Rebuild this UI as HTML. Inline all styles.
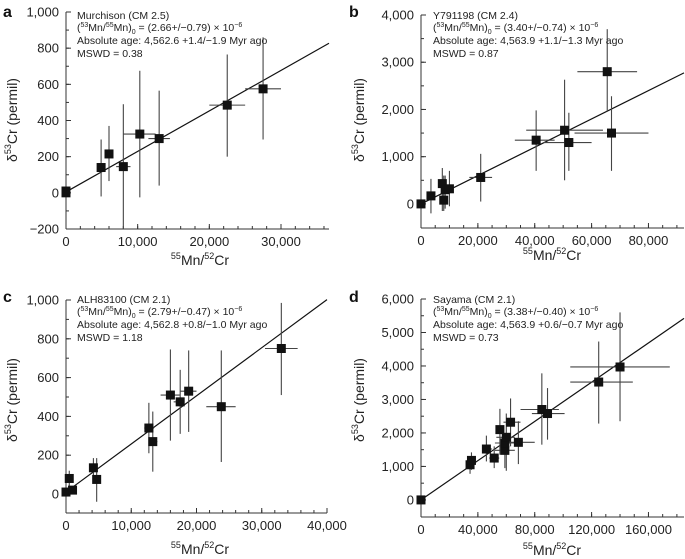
<!DOCTYPE html>
<html><head><meta charset="utf-8"><style>
body{margin:0;background:#fff}
svg{display:block;font-family:"Liberation Sans",Arial,sans-serif}
</style></head><body>
<svg id="chart" width="685" height="559" viewBox="0 0 685 559"></svg>
<script>
// Panel a: Murchison
const aX=[0,0,4900,6000,8000,10300,13000,22500,27500];
const aY=[10,0,140,215,145,325,300,485,575];
const aXlo=[0,0,4900,6000,7000,8000,11500,20000,25000];
const aXhi=[0,0,4900,6000,9000,12500,14500,25000,30000];
const aYlo=[10,0,-20,65,-200,-25,40,200,295];
const aYhi=[10,0,295,370,490,675,565,765,860];
const aXticks=[0,10000,20000,30000];
const aYticks=[-200,0,200,400,600,800,1000];
const aFit=[5,0.0224];
// Panel b: Y791198
const bX=[0,3500,7500,8000,8500,10000,21000,40500,50500,52000,65500,67000];
const bY=[0,170,430,80,300,320,560,1350,1560,1300,2800,1500];
const bXlo=[0,3500,7500,8000,8500,10000,17000,33000,37000,43000,55000,54000];
const bXhi=[0,3500,7500,8000,8500,10000,25000,47000,64000,60000,76000,80000];
const bYlo=[0,-200,-150,-150,-100,-50,50,700,500,700,1950,700];
const bYhi=[0,530,760,600,600,700,1060,1980,2630,1930,3700,2280];
const bXticks=[0,20000,40000,60000,80000];
const bYticks=[0,1000,2000,3000,4000];
const bFit=[0,0.0300];
// Panel c: ALH83100
const cX=[0,500,1000,4200,4700,12700,13300,16000,17500,18800,23800,33000];
const cY=[10,80,20,135,75,340,270,510,475,530,450,750];
const cXlo=[0,500,1000,4200,4700,12000,12800,14500,16500,17500,21500,30500];
const cXhi=[0,500,1000,4200,4700,13500,14000,17500,18000,20000,26000,35500];
const cYlo=[10,40,0,80,-40,210,115,275,310,320,165,510];
const cYhi=[10,120,40,185,185,470,425,745,640,740,740,985];
const cXticks=[0,10000,20000,30000,40000];
const cYticks=[0,200,400,600,800,1000];
const cFit=[10,0.0248];
// Panel d: Sayama
const dX=[0,34500,35500,46000,51500,55500,59000,59000,60000,63000,68500,85000,89000,125000,140000];
const dY=[0,1050,1180,1520,1250,2100,1480,1700,1870,2320,1720,2700,2580,3520,3970];
const dXlo=[0,34500,35500,43000,48000,55500,52000,52000,53000,58000,60000,70000,78000,105000,105000];
const dXhi=[0,34500,35500,50000,55000,55500,66000,68000,66000,70000,80000,97000,101000,149000,175000];
const dYlo=[0,780,900,1150,950,1350,950,1500,870,1600,1070,1650,1800,2280,2350];
const dYhi=[0,1300,1420,1920,1600,2720,2000,1900,2580,3030,2350,3780,3340,4730,5600];
const dXticks=[0,40000,80000,120000,160000];
const dYticks=[0,1000,2000,3000,4000,5000,6000];
const dFit=[0,0.0293];

const NS="http://www.w3.org/2000/svg";
const svg=document.getElementById('chart');
function mk(tag,attrs,parent,txt){const e=document.createElementNS(NS,tag);for(const k in attrs)e.setAttribute(k,attrs[k]);if(txt!==undefined)e.textContent=txt;(parent||svg).appendChild(e);return e;}
function fmt(v){return (v<0?'\u2212':'')+Math.abs(v).toLocaleString('en-US');}

function panel(cfg){
  const g=mk('g',{});
  
  
  const sx=v=>cfg.px0+(v-cfg.xmin)/(cfg.xmax-cfg.xmin)*(cfg.px1-cfg.px0);
  const sy=v=>cfg.py0-(v-cfg.ymin)/(cfg.ymax-cfg.ymin)*(cfg.py0-cfg.py1);
  const ax=mk('line',{x1:cfg.px0,y1:cfg.py0,x2:cfg.px1,y2:cfg.py0,stroke:'#333','stroke-width':1},g);
  
  
  const ay=mk('line',{x1:cfg.px0,y1:cfg.py0,x2:cfg.px0,y2:sy(cfg.yticks[cfg.yticks.length-1]),stroke:'#333','stroke-width':1},g);
  
  
  for(let v=cfg.xmin;v<=cfg.xmax+1e-6;v+=cfg.xminor){mk('line',{x1:sx(v),x2:sx(v),y1:cfg.py0,y2:cfg.py0-3,stroke:'#333'},g);}
  for(let v=cfg.yticks[0];v<=cfg.yticks[cfg.yticks.length-1]+1e-6;v+=cfg.yminor){mk('line',{x1:cfg.px0,x2:cfg.px0+3,y1:sy(v),y2:sy(v),stroke:'#333'},g);}
  cfg.xticks.forEach(v=>{
    mk('line',{x1:sx(v),x2:sx(v),y1:cfg.py0,y2:cfg.py0-5,stroke:'#333'},g);
    const t=mk('text',{x:sx(v),y:cfg.py0+17,'font-size':13,'text-anchor':'middle',fill:'#222'},g,fmt(v));
    
    
  });
  cfg.yticks.forEach(v=>{
    mk('line',{x1:cfg.px0,x2:cfg.px0+5,y1:sy(v),y2:sy(v),stroke:'#333'},g);
    const t=mk('text',{x:cfg.px0-7,y:sy(v)+4.5,'font-size':13,'text-anchor':'end',fill:'#222'},g,fmt(v));
    
    
  });
  const fx1=cfg.fitStart, fx2=cfg.xmax;
  const fl=mk('line',{x1:sx(fx1),y1:sy(cfg.fit[0]+cfg.fit[1]*fx1),x2:sx(fx2),y2:sy(cfg.fit[0]+cfg.fit[1]*fx2),stroke:'#111','stroke-width':1.2},g);
  
  
  cfg.X.forEach((x,i)=>{
    const y=cfg.Y[i];
    if(cfg.Xhi[i]>cfg.Xlo[i]){const e=mk('line',{x1:sx(cfg.Xlo[i]),x2:sx(cfg.Xhi[i]),y1:sy(y),y2:sy(y),stroke:'#444','stroke-width':1.1},g);
      
      }
    if(cfg.Yhi[i]>cfg.Ylo[i]){const e=mk('line',{x1:sx(x),x2:sx(x),y1:sy(cfg.Ylo[i]),y2:sy(cfg.Yhi[i]),stroke:'#444','stroke-width':1.1},g);
      
      }
  });
  cfg.X.forEach((x,i)=>{
    const r=mk('rect',{x:sx(x)-4.5,y:sy(cfg.Y[i])-4.5,width:9,height:9,fill:'#111'},g);
    
    
  });
  const L=mk('text',{x:cfg.lx,y:cfg.ly,'font-size':16,'font-weight':'bold',fill:'#111'},g,cfg.id);
  
  
  const yt=mk('text',{x:0,y:0,'font-size':14,'text-anchor':'middle',fill:'#222',transform:`translate(${cfg.ytx},${cfg.yty}) rotate(-90)`},g);
  
  
  mk('tspan',{},yt,'\u03b4');mk('tspan',{'font-size':9,dy:-6},yt,'53');mk('tspan',{dy:6},yt,'Cr (permil)');
  const xt=mk('text',{x:cfg.xtx,y:cfg.xty,'font-size':14,'text-anchor':'middle',fill:'#222'},g);
  
  
  mk('tspan',{'font-size':9,dy:-6},xt,'55');mk('tspan',{dy:6},xt,'Mn/');mk('tspan',{'font-size':9,dy:-6},xt,'52');mk('tspan',{dy:6},xt,'Cr');
  const an=mk('g',{'font-size':10.5,fill:'#222'},g);
  
  
  mk('text',{x:cfg.tx,y:cfg.ty},an,cfg.name);
  const t2=mk('text',{x:cfg.tx,y:cfg.ty+12},an);
  mk('tspan',{},t2,'(');mk('tspan',{'font-size':7,dy:-4},t2,'53');mk('tspan',{dy:4},t2,'Mn/');mk('tspan',{'font-size':7,dy:-4},t2,'55');mk('tspan',{dy:4},t2,'Mn)');mk('tspan',{'font-size':7,dy:3},t2,'0');mk('tspan',{dy:-3},t2,' = '+cfg.ratio+' \u00d7 10');mk('tspan',{'font-size':7,dy:-4},t2,'\u22126');
  mk('text',{x:cfg.tx,y:cfg.ty+25},an,'Absolute age: '+cfg.age+' Myr ago');
  mk('text',{x:cfg.tx,y:cfg.ty+38},an,'MSWD = '+cfg.mswd);
}

panel({id:'a',X:aX,Y:aY,Xlo:aXlo,Xhi:aXhi,Ylo:aYlo,Yhi:aYhi,xticks:aXticks,yticks:aYticks,fit:aFit,fitStart:0,
  xmin:0,xmax:36700,ymin:-200,ymax:1000,px0:66,px1:329,py0:229,py1:12,xminor:2000,yminor:100,
  lx:3,ly:17,ytx:17,yty:120,xtx:200,xty:265,tx:77,ty:19,name:'Murchison (CM 2.5)',ratio:'(2.66+/\u22120.79)',age:'4,562.6 +1.4/\u22121.9',mswd:'0.38'});
panel({id:'b',X:bX,Y:bY,Xlo:bXlo,Xhi:bXhi,Ylo:bYlo,Yhi:bYhi,xticks:bXticks,yticks:bYticks,fit:bFit,fitStart:0,
  xmin:0,xmax:92500,ymin:-510,ymax:4000,px0:421,px1:684,py0:228,py1:15,xminor:5000,yminor:500,
  lx:349,ly:17,ytx:364,yty:120,xtx:552,xty:260,tx:433,ty:19,name:'Y791198 (CM 2.4)',ratio:'(3.40+/\u22120.74)',age:'4,563.9 +1.1/\u22121.3',mswd:'0.87'});
panel({id:'c',X:cX,Y:cY,Xlo:cXlo,Xhi:cXhi,Ylo:cYlo,Yhi:cYhi,xticks:cXticks,yticks:cYticks,fit:cFit,fitStart:0,
  xmin:0,xmax:40000,ymin:-98,ymax:1000,px0:66,px1:327,py0:513,py1:300,xminor:2000,yminor:100,
  lx:3,ly:302,ytx:17,yty:400,xtx:200,xty:554,tx:77,ty:303,name:'ALH83100 (CM 2.1)',ratio:'(2.79+/\u22120.47)',age:'4,562.8 +0.8/\u22121.0',mswd:'1.18'});
panel({id:'d',X:dX,Y:dY,Xlo:dXlo,Xhi:dXhi,Ylo:dYlo,Yhi:dYhi,xticks:dXticks,yticks:dYticks,fit:dFit,fitStart:0,
  xmin:0,xmax:185000,ymin:-510,ymax:6000,px0:421,px1:684,py0:517,py1:299,xminor:10000,yminor:500,
  lx:349,ly:302,ytx:364,yty:400,xtx:552,xty:555,tx:433,ty:303,name:'Sayama (CM 2.1)',ratio:'(3.38+/\u22120.40)',age:'4,563.9 +0.6/\u22120.7',mswd:'0.73'});
</script>
</body></html>
